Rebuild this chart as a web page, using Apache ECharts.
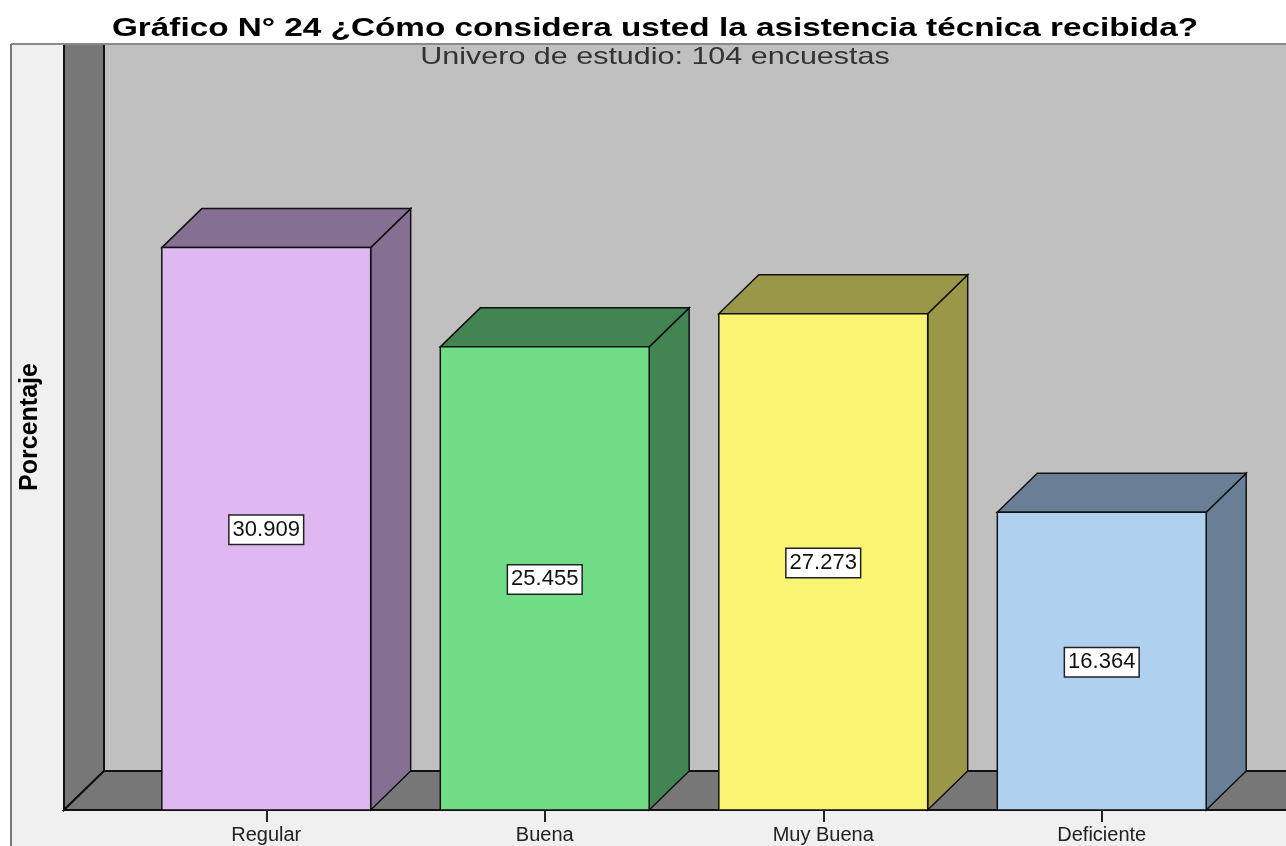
<!DOCTYPE html>
<html>
<head>
<meta charset="utf-8">
<script src="https://cdn.jsdelivr.net/npm/echarts@6/dist/echarts.min.js"></script>
<style>
  html, body { margin: 0; padding: 0; background: #fff; }
  #chart { width: 1286px; height: 846px; }
</style>
</head>
<body>
<div id="chart"></div>
<script>
// datos del grafico
var categories = ['Regular', 'Buena', 'Muy Buena', 'Deficiente'];
var percentages = [30.909, 25.455, 27.273, 16.364];

// colores: cara frontal / cara lateral y superior
var frontColors = ['#dfb8f2', '#70dd86', '#f9f572', '#afd0ee'];
var sideColors = ['#857094', '#428452', '#9b9748', '#687f96'];

var DX = 40, DY = 39; // profundidad 3D
var FONT = '"Liberation Sans", Arial, sans-serif';

var chart = echarts.init(document.getElementById('chart'));

function renderBackdrop(params, api) {
  var cs = params.coordSys;
  var floorY = cs.y + cs.height;
  var wallX = cs.x - 63;
  var W = api.getWidth(), H = api.getHeight();
  var top = cs.y;
  return {
    type: 'group',
    children: [
      // panel claro
      { type: 'rect', shape: { x: 11, y: top, width: W, height: H }, style: { fill: '#f0f0f0' } },
      // pared del fondo
      { type: 'rect', shape: { x: wallX + DX, y: top, width: W, height: floorY - DY - top }, style: { fill: '#c0c0c0' } },
      // pared izquierda
      { type: 'polygon', shape: { points: [[wallX, top], [wallX + DX, top], [wallX + DX, floorY - DY], [wallX, floorY]] },
        style: { fill: '#777777', stroke: '#111', lineWidth: 2 } },
      // piso
      { type: 'polygon', shape: { points: [[wallX, floorY], [wallX + DX, floorY - DY], [W + 5, floorY - DY], [W + 5, floorY]] },
        style: { fill: '#777777', stroke: '#111', lineWidth: 2 } },
      // borde exterior
      { type: 'line', shape: { x1: 11, y1: top, x2: W, y2: top }, style: { stroke: '#8a8a8a', lineWidth: 2 } },
      { type: 'line', shape: { x1: 11, y1: top, x2: 11, y2: H }, style: { stroke: '#777', lineWidth: 2 } }
    ]
  };
}

function renderBar(params, api) {
  var idx = api.value(0);
  var topPt = api.coord([idx, api.value(1)]);
  var basePt = api.coord([idx, 0]);
  var bw = api.size([1, 0])[0] * 0.75;
  var x0 = topPt[0] - bw / 2, x1 = topPt[0] + bw / 2;
  var yT = topPt[1], yB = basePt[1];
  var edge = { stroke: '#111', lineWidth: 1.5, lineJoin: 'miter' };
  return {
    type: 'group',
    children: [
      { type: 'polygon', shape: { points: [[x1, yT], [x1 + DX, yT - DY], [x1 + DX, yB - DY], [x1, yB]] },
        style: Object.assign({ fill: sideColors[idx] }, edge) },
      { type: 'polygon', shape: { points: [[x0, yT], [x0 + DX, yT - DY], [x1 + DX, yT - DY], [x1, yT]] },
        style: Object.assign({ fill: sideColors[idx] }, edge) },
      { type: 'rect', shape: { x: x0, y: yT, width: bw, height: yB - yT },
        style: Object.assign({ fill: frontColors[idx] }, edge) },
      { type: 'text', z2: 10,
        style: {
          text: api.value(1).toFixed(3), x: topPt[0], y: (yT + yB) / 2 + 1,
          align: 'center', verticalAlign: 'middle',
          font: '22px ' + FONT, fill: '#111',
          backgroundColor: '#fff', borderColor: '#222', borderWidth: 1.5, padding: [4, 3, 2, 3]
        } }
    ]
  };
}

var option = {
  animation: false,
  backgroundColor: '#fff',
  // titulos como texto (estirados horizontalmente como en el original)
  graphic: [
    {
      type: 'text', x: 655, y: 29, scaleX: 1.28, z: 100,
      style: {
        text: 'Gráfico N° 24 ¿Cómo considera usted la asistencia técnica recibida?',
        align: 'center', verticalAlign: 'middle',
        font: 'bold 26px ' + FONT, fill: '#000'
      }
    },
    {
      type: 'text', x: 655, y: 57, scaleX: 1.27, z: 100,
      style: {
        text: 'Univero de estudio: 104 encuestas',
        align: 'center', verticalAlign: 'middle',
        font: '24px ' + FONT, fill: '#333'
      }
    }
  ],
  grid: { left: 127, right: 45, top: 44, bottom: 36 },
  xAxis: {
    type: 'category',
    data: categories,
    z: 10,
    axisLine: { show: false },
    axisTick: { show: true, alignWithLabel: true, length: 12, lineStyle: { color: '#222', width: 2 } },
    axisLabel: { fontFamily: FONT, fontSize: 20, color: '#222', margin: 15 },
    splitLine: { show: false }
  },
  yAxis: {
    type: 'value',
    min: 0,
    max: 42.1,
    z: 10,
    name: 'Porcentaje',
    nameLocation: 'middle',
    nameGap: 84,
    nameTextStyle: { fontFamily: FONT, fontWeight: 'bold', fontSize: 25, color: '#000' },
    axisLine: { show: false },
    axisTick: { show: false },
    axisLabel: { show: false },
    splitLine: { show: false }
  },
  series: [
    {
      type: 'custom',
      name: 'fondo',
      z: 1,
      silent: true,
      clip: false,
      renderItem: renderBackdrop,
      data: [[0, 0]]
    },
    {
      type: 'custom',
      name: 'Porcentaje',
      z: 2,
      clip: false,
      renderItem: renderBar,
      encode: { x: 0, y: 1 },
      data: percentages.map(function (v, i) { return [i, v]; })
    }
  ]
};

chart.setOption(option);
</script>
</body>
</html>
